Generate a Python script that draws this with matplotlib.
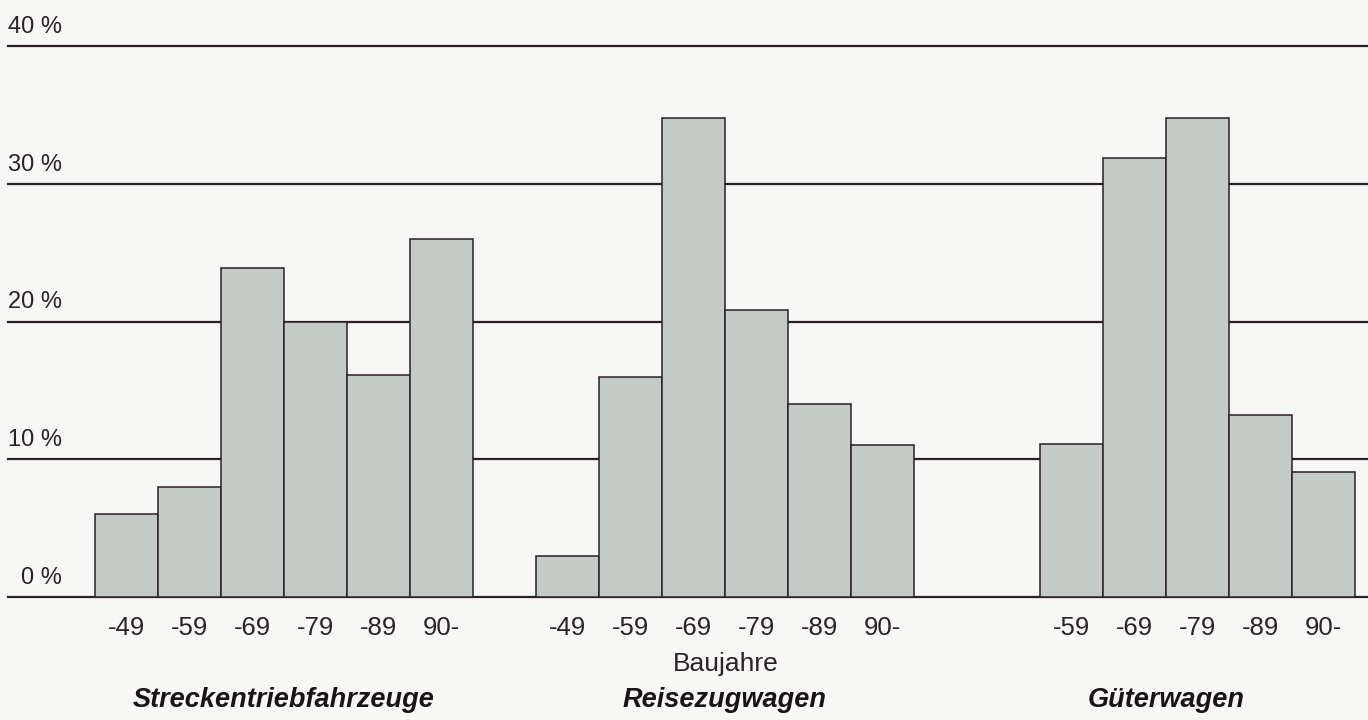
import matplotlib
matplotlib.use("Agg")
import matplotlib.pyplot as plt
from matplotlib import font_manager, transforms

# data (share in %, by build period)
periods = ["-49", "-59", "-69", "-79", "-89", "90-"]
strecken = [6.0, 8.0, 23.9, 20.0, 16.1, 26.0]
reise = [3.0, 16.0, 34.8, 20.8, 14.0, 11.0]
gueter = [None, 11.1, 31.9, 34.8, 13.2, 9.1]
groups = ["Streckentriebfahrzeuge", "Reisezugwagen", "Güterwagen"]
y_ticks = [0, 10, 20, 30, 40]

names = {f.name for f in font_manager.fontManager.ttflist}
fam = [f for f in ["Liberation Sans Narrow", "Liberation Sans", "DejaVu Sans"] if f in names]
plt.rcParams["font.family"] = fam

W, H = 1368, 720
fig = plt.figure(figsize=(W / 100, H / 100), dpi=100, facecolor="#f7f7f5")
ax = fig.add_axes([8 / W, 1 - 597 / H, 1360 / W, 551 / H])
ax.set_facecolor("none")

bar_color = "#c4cbc6"
edge = "#2a1f27"
ink = "#2a2228"

series = [strecken, reise, gueter]
xs, labels = [], []
for g, vals in enumerate(series):
    start = g * 7
    for i, v in enumerate(vals):
        if v is None:
            continue
        x = start + i
        ax.bar(x, v, width=1.0, color=bar_color, edgecolor=edge, linewidth=1.1, zorder=3)
        xs.append(x)
        labels.append(periods[i])

for y in y_ticks:
    ax.axhline(y, color=ink, linewidth=1.6, zorder=1, clip_on=False)

left = -0.5 - 87 / 63
right = 19.5 + 13 / 63
ax.set_xlim(left, right)
ax.set_ylim(0, 40)

for s in ax.spines.values():
    s.set_visible(False)
ax.set_yticks([])
ax.set_xticks(xs)
ax.set_xticklabels(labels, fontsize=18.5, color=ink)
ax.tick_params(axis="x", length=0, pad=14)

# y labels sitting above the lines
trans = ax.get_yaxis_transform()
for y in y_ticks:
    ax.text(54 / 1360, y + 0.95, f"{y} %", transform=trans, ha="right", va="baseline",
            fontsize=17, color=ink, clip_on=False)

# axis title and group names
ax.text(726 / W, 1 - 664 / H, "Baujahre", transform=fig.transFigure, ha="center",
        va="center", fontsize=19, color=ink)
mixed = transforms.blended_transform_factory(ax.transData, fig.transFigure)
for g, name in enumerate(groups):
    cx = g * 7 + 2.5
    ax.text(cx, 1 - 700 / H, name, transform=mixed, ha="center", va="center",
            fontsize=19.5, fontweight="bold", fontstyle="italic", color="#1a1418")

fig.savefig("out.png", dpi=100, facecolor=fig.get_facecolor())
